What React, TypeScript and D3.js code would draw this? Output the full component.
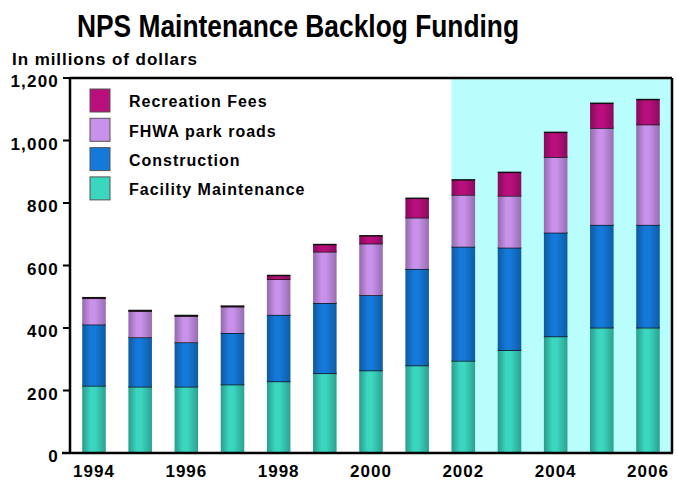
import * as d3 from "d3"

const years = [1994, 1995, 1996, 1997, 1998, 1999, 2000, 2001, 2002, 2003, 2004, 2005, 2006]
// stacked amounts (millions of dollars), bottom to top
const facilityMaintenance = [215, 212, 212, 219, 229, 255, 264, 280, 295, 329, 373, 401, 401]
const construction = [196, 158, 142, 165, 213, 225, 241, 309, 365, 328, 332, 329, 329]
const fhwaParkRoads = [84, 84, 84, 84, 114, 164, 165, 164, 166, 166, 242, 310, 321]
const recreationFees = [2, 2, 2, 2, 12, 23, 25, 62, 48, 75, 79, 79, 80]

const seriesNames = ["Facility Maintenance", "Construction", "FHWA park roads", "Recreation Fees"]
const seriesColors = ["#3ad6c0", "#1479d9", "#c891ea", "#b80f7c"]
const yTicks = [0, 200, 400, 600, 800, 1000, 1200]
const xLabelYears = [1994, 1996, 1998, 2000, 2002, 2004, 2006]
const highlightFrom = 2002

const W = 677
const H = 480
const margin = { top: 78, right: 5, bottom: 27, left: 70 }

export default function App() {
  const innerRight = W - margin.right
  const innerBottom = H - margin.bottom

  const x = d3
    .scaleBand<number>()
    .domain(years)
    .range([margin.left, innerRight])
    .paddingInner(0.49)
    .paddingOuter(0.265)
  const y = d3.scaleLinear().domain([0, 1200]).range([innerBottom, margin.top])

  const rows = years.map((yr, i) => ({
    year: yr,
    s0: facilityMaintenance[i],
    s1: construction[i],
    s2: fhwaParkRoads[i],
    s3: recreationFees[i],
  }))
  const stacked = d3.stack<(typeof rows)[0]>().keys(["s0", "s1", "s2", "s3"])(rows)

  const font = "'Liberation Sans', Arial, Helvetica, sans-serif"
  const legendItems = seriesNames.map((n, i) => ({ name: n, color: seriesColors[i] })).reverse()

  return (
    <svg width={W} height={H} style={{ position: "absolute", left: 0, top: 0, background: "#fff" }} fontFamily={font}>
      <defs>
        {seriesColors.map((c, i) => {
          const base = d3.color(c)!
          return (
            <linearGradient key={i} id={`bar-grad-${i}`} x1="0" x2="1" y1="0" y2="0">
              <stop offset="0%" stopColor={base.darker(0.9).formatHex()} />
              <stop offset="35%" stopColor={base.formatHex()} />
              <stop offset="55%" stopColor={base.formatHex()} />
              <stop offset="100%" stopColor={base.darker(0.8).formatHex()} />
            </linearGradient>
          )
        })}
      </defs>

      {/* title */}
      <text x={77} y={37} fontSize={32} fontWeight="bold" fill="#000" textLength={442} lengthAdjust="spacingAndGlyphs">
        NPS Maintenance Backlog Funding
      </text>
      <text x={12} y={65} fontSize={17} fontWeight="bold" fill="#000" textLength={185} lengthAdjust="spacing">
        In millions of dollars
      </text>

      {/* highlighted period */}
      <rect
        x={x(highlightFrom)!}
        y={margin.top}
        width={innerRight - x(highlightFrom)!}
        height={innerBottom - margin.top}
        fill="#b9fdfc"
      />

      {/* bars */}
      {stacked.map((layer, si) => (
        <g key={si}>
          {layer.map((d, i) => {
            const top = y(d[1])
            const h = y(d[0]) - top
            const bx = x(years[i])!
            return (
              <g key={i}>
                <rect x={bx} y={top} width={x.bandwidth()} height={h} fill={`url(#bar-grad-${si})`} />
                <line x1={bx} x2={bx + x.bandwidth()} y1={top} y2={top} stroke="#111" strokeWidth={1.5} />
              </g>
            )
          })}
        </g>
      ))}

      {/* frame */}
      <line x1={margin.left} x2={innerRight} y1={margin.top} y2={margin.top} stroke="#000" strokeWidth={2.5} />
      <line x1={innerRight} x2={innerRight} y1={margin.top} y2={innerBottom} stroke="#000" strokeWidth={2.5} />
      <line x1={margin.left} x2={margin.left} y1={margin.top - 1} y2={innerBottom + 1} stroke="#000" strokeWidth={2.5} />
      <line x1={margin.left - 8} x2={innerRight + 1} y1={innerBottom} y2={innerBottom} stroke="#000" strokeWidth={2.5} />

      {/* y axis */}
      {yTicks.map((t) => (
        <g key={t}>
          <line x1={margin.left - 7} x2={margin.left} y1={y(t)} y2={y(t)} stroke="#000" strokeWidth={2} />
          <text
            x={59}
            y={y(t) + 3}
            dy="0.36em"
            textAnchor="end"
            fontSize={17}
            fontWeight="bold"
            letterSpacing={1.2}
            fill="#000"
          >
            {d3.format(",")(t)}
          </text>
        </g>
      ))}

      {/* x axis labels */}
      {xLabelYears.map((yr) => (
        <text
          key={yr}
          x={x(yr)! + x.bandwidth() / 2}
          y={477}
          textAnchor="middle"
          fontSize={17}
          fontWeight="bold"
          letterSpacing={1}
          fill="#000"
        >
          {yr}
        </text>
      ))}

      {/* legend */}
      {legendItems.map((it, i) => (
        <g key={it.name} transform={`translate(90, ${89 + i * 29.3})`}>
          <rect x={0} y={0} width={20} height={23} fill={it.color} stroke="#555" strokeWidth={1} />
          <text x={39} y={12.5} dy="0.36em" fontSize={16} fontWeight="bold" letterSpacing={1} fill="#000">
            {it.name}
          </text>
        </g>
      ))}
    </svg>
  )
}
